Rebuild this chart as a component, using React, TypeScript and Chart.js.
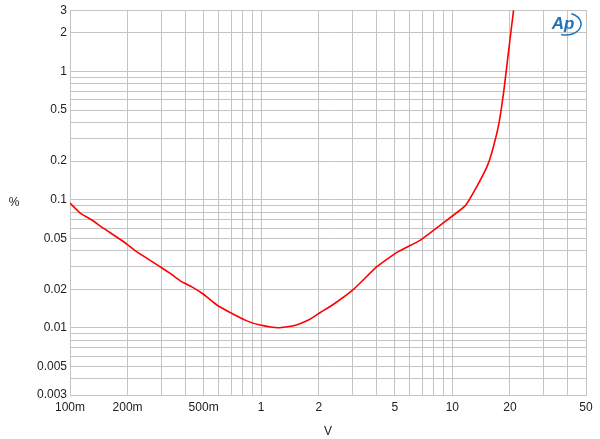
import React, { useEffect, useRef } from "react";
import { Chart, registerables } from "chart.js";

Chart.register(...registerables);

const voltage = [0.1, 0.113, 0.13, 0.15, 0.19, 0.223, 0.296, 0.334, 0.377, 0.434, 0.499, 0.586, 0.688, 0.841, 0.988, 1.23, 1.476, 1.8, 2.04, 2.39, 3.04, 4.03, 5.13, 6.81, 8.66, 11.7, 13.2, 15.2, 16.1, 17.5, 18.6, 19.7, 20.9];
const thdn = [0.094, 0.0787, 0.0694, 0.0597, 0.0472, 0.0393, 0.030, 0.0266, 0.0233, 0.0209, 0.0183, 0.0151, 0.0132, 0.01135, 0.01054, 0.01004, 0.0104, 0.0117, 0.0132, 0.0153, 0.020, 0.030, 0.0388, 0.0484, 0.0634, 0.0898, 0.121, 0.182, 0.234, 0.39, 0.711, 1.46, 3.0];

const xGrid = [0.1, 0.2, 0.3, 0.4, 0.5, 0.6, 0.7, 0.8, 0.9, 1, 2, 3, 4, 5, 6, 7, 8, 9, 10, 20, 30, 40, 50];
const xLabels: Record<string, string> = { "0.1": "100m", "0.2": "200m", "0.5": "500m", "1": "1", "2": "2", "5": "5", "10": "10", "20": "20", "50": "50" };
const yGrid = [0.003, 0.004, 0.005, 0.006, 0.007, 0.008, 0.009, 0.01, 0.02, 0.03, 0.04, 0.05, 0.06, 0.07, 0.08, 0.09, 0.1, 0.2, 0.3, 0.4, 0.5, 0.6, 0.7, 0.8, 0.9, 1, 2, 3];
const yLabels: Record<string, string> = { "0.003": "0.003", "0.005": "0.005", "0.01": "0.01", "0.02": "0.02", "0.05": "0.05", "0.1": "0.1", "0.2": "0.2", "0.5": "0.5", "1": "1", "2": "2", "3": "3" };

const FONT = "'Liberation Sans', Arial, sans-serif";

const overlay = {
  id: "overlay",
  afterDraw(chart: any) {
    const ctx = chart.ctx;
    ctx.save();
    ctx.fillStyle = "#222";
    ctx.font = `12px ${FONT}`;
    ctx.textAlign = "center";
    ctx.textBaseline = "middle";
    ctx.fillText("%", 14, 203);
    // AP logo
    ctx.strokeStyle = "#1f74b8";
    ctx.fillStyle = "#1f74b8";
    ctx.lineWidth = 1.5;
    ctx.beginPath();
    ctx.ellipse(566, 24, 15, 11, 0, -1.2, 1.9);
    ctx.stroke();
    ctx.font = `italic bold 17px ${FONT}`;
    ctx.fillText("Ap", 563, 24);
    ctx.restore();
  },
};

export default function App() {
  const ref = useRef<HTMLCanvasElement>(null);
  useEffect(() => {
    const chart = new Chart(ref.current!, {
      type: "line",
      data: {
        datasets: [
          {
            data: voltage.map((v, i) => ({ x: v, y: thdn[i] })),
            borderColor: "#ff0000",
            borderWidth: 1.6,
            pointRadius: 0,
            tension: 0.15,
            fill: false,
          },
        ],
      },
      options: {
        animation: false,
        responsive: false,
        events: [],
        layout: { padding: { left: 0, right: 14, top: 10, bottom: 0 } },
        plugins: { legend: { display: false }, tooltip: { enabled: false } },
        scales: {
          x: {
            type: "logarithmic",
            min: 0.1,
            max: 50,
            afterBuildTicks: (s: any) => { s.ticks = xGrid.map((v) => ({ value: v })); },
            afterFit: (s: any) => { s.height = 44; },
            grid: { color: "#c4c4c4", lineWidth: 1, drawTicks: false },
            border: { color: "#c4c4c4" },
            ticks: {
              autoSkip: false,
              maxRotation: 0,
              padding: 5,
              color: "#222",
              font: { family: FONT, size: 12 },
              callback: (v: any) => xLabels[String(v)] ?? "",
            },
            title: { display: true, text: "V", color: "#222", font: { family: FONT, size: 12 }, padding: { top: 4, bottom: 0 } },
          },
          y: {
            type: "logarithmic",
            min: 0.003,
            max: 3,
            afterBuildTicks: (s: any) => { s.ticks = yGrid.map((v) => ({ value: v })); },
            afterFit: (s: any) => { s.width = 70; },
            grid: { color: "#c4c4c4", lineWidth: 1, drawTicks: false },
            border: { color: "#c4c4c4" },
            ticks: {
              autoSkip: false,
              padding: 3,
              color: "#222",
              font: { family: FONT, size: 12 },
              callback: (v: any) => yLabels[String(v)] ?? "",
            },
          },
        },
      },
      plugins: [overlay],
    } as any);
    return () => chart.destroy();
  }, []);
  return (
    <div style={{ position: "fixed", left: 0, top: 0, width: 600, height: 439, background: "#fff" }}>
      <canvas ref={ref} width={600} height={439} style={{ width: 600, height: 439 }} />
    </div>
  );
}
